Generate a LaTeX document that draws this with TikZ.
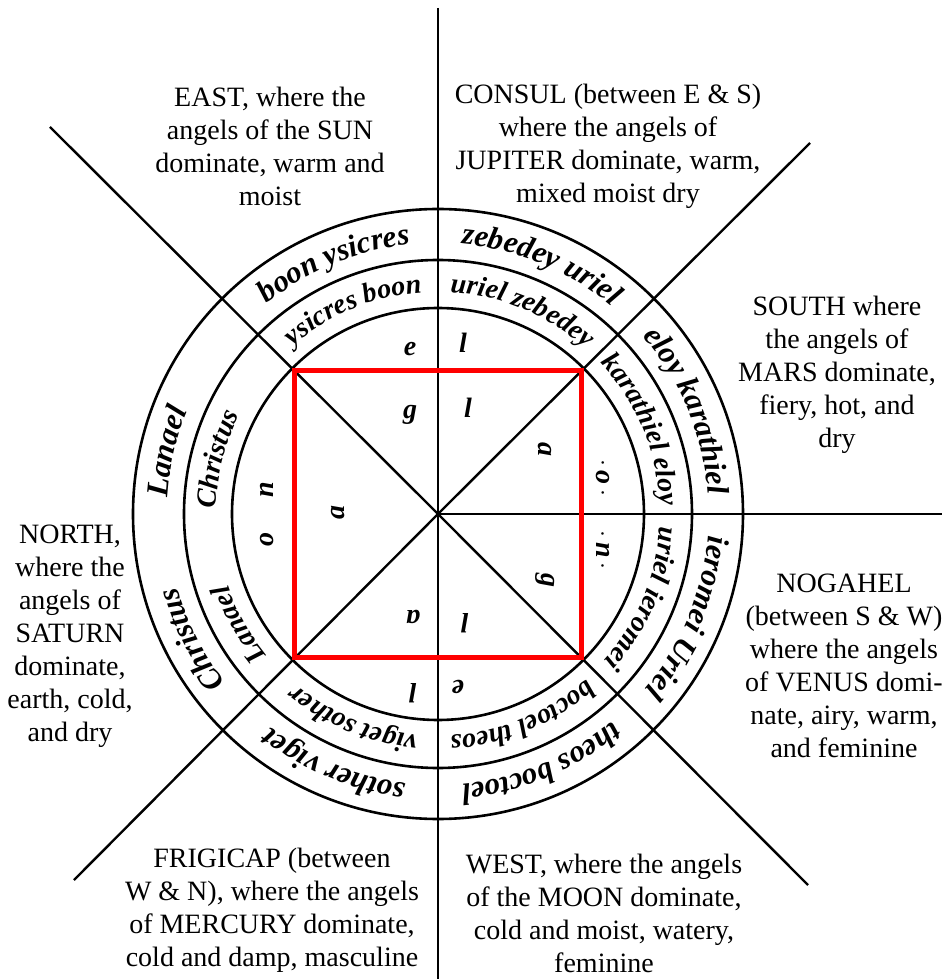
\documentclass[tikz,border=0pt]{standalone}
\usepackage{fontspec}
\setmainfont{Liberation Serif}
\usepackage{tikz}
\usetikzlibrary{decorations.text}

\newcommand\outerfont{\bfseries\itshape\fontsize{31}{31}\selectfont}
\newcommand\middlefont{\bfseries\itshape\fontsize{28}{28}\selectfont}

\begin{document}
\begin{tikzpicture}[
  x=1pt, y=1pt,
  rim/.style={draw, line width=2.6pt},
  spoke/.style={draw, line width=2.4pt},
  notes/.style={align=center, inner sep=0pt, font=\fontsize{28}{33}\selectfont},
  glyph/.style={inner sep=0pt, font=\middlefont},
  outertext/.style={decorate, decoration={text along path, text align=center, text={|\outerfont|#1}}},
  middletext/.style={decorate, decoration={text along path, text align=center, text={|\middlefont|#1}}},
]

  \useasboundingbox (-438,-465) rectangle (504,514);

  % spokes
  \coordinate (c) at (0,0);
  \coordinate (top) at (0,506);
  \coordinate (bottom) at (0,-465);
  \coordinate (right) at (504,0);
  \coordinate (nw) at (-388,387);
  \coordinate (ne) at (372,371);
  \coordinate (sw) at (-364,-366);
  \coordinate (se) at (370,-371);

  \draw[spoke] (top) -- (bottom);
  \draw[spoke] (c) -- (right);
  \draw[spoke] (c) -- (nw);
  \draw[spoke] (c) -- (ne);
  \draw[spoke] (c) -- (sw);
  \draw[spoke] (c) -- (se);

  % rings
  \draw[rim] (c) circle[radius=206];
  \draw[rim] (c) circle[radius=254];
  \draw[rim] (c) circle[radius=305];

  \draw[red, line width=5pt] (-143,-143) rectangle (143,143);

  % outer ring
  \path[outertext={boon ysicres}] (135:271) arc[start angle=135, end angle=90, radius=271];
  \path[outertext={zebedey uriel}] (90:271) arc[start angle=90, end angle=45, radius=271];
  \path[outertext={eloy karathiel}] (45:271) arc[start angle=45, end angle=0, radius=271];
  \path[outertext={ieromei Uriel}] (0:271) arc[start angle=0, end angle=-45, radius=271];
  \path[outertext={theos boctoel}] (-45:271) arc[start angle=-45, end angle=-90, radius=271];
  \path[outertext={sother viget}] (-90:271) arc[start angle=-90, end angle=-135, radius=271];
  \path[outertext={Christus}] (232:271) arc[start angle=232, end angle=182, radius=271];
  \path[outertext={Lanael}] (192:271) arc[start angle=192, end angle=142, radius=271];

  % middle ring
  \path[middletext={ysicres boon}] (137:222) arc[start angle=137, end angle=88, radius=222];
  \path[middletext={uriel zebedey}] (92:222) arc[start angle=92, end angle=43, radius=222];
  \path[middletext={karathiel eloy}] (47:222) arc[start angle=47, end angle=-2, radius=222];
  \path[middletext={uriel ieromei}] (2:222) arc[start angle=2, end angle=-47, radius=222];
  \path[middletext={boctoel theos}] (-43:222) arc[start angle=-43, end angle=-92, radius=222];
  \path[middletext={viget sother}] (-88:222) arc[start angle=-88, end angle=-137, radius=222];
  \path[middletext={Christus}] (191:222) arc[start angle=191, end angle=141, radius=222];
  \path[middletext={Lanael}] (234:222) arc[start angle=234, end angle=184, radius=222];

  % letters between square and inner ring
  \node[glyph] (ine) at (-28,165) {e};
  \node[glyph] (inl) at (25,171) {l};
  \node[glyph, rotate=-90] (ino) at (165,36) {$\cdot$\,o\,$\cdot$};
  \node[glyph, rotate=-90] (inn) at (165,-36) {$\cdot$\,n\,$\cdot$};
  \node[glyph, rotate=180] (outl) at (-25,-179) {l};
  \node[glyph, rotate=180] (oute) at (20,-173) {e};
  \node[glyph, rotate=90] (wn) at (-171,24) {n};
  \node[glyph, rotate=90] (wo) at (-171,-26) {o};

  % letters inside the square
  \node[glyph] (sqg) at (-28,99) {g};
  \node[glyph] (sql) at (30,106) {l};
  \node[glyph, rotate=-90] (sqa) at (107,64) {a};
  \node[glyph, rotate=-90] (sqg2) at (107,-66) {g};
  \node[glyph, rotate=180] (sql2) at (27,-109) {l};
  \node[glyph, rotate=180] (sqa2) at (-25,-103) {a};
  \node[glyph, rotate=90] (sqa3) at (-100,1) {a};

  % quarters
  \node[notes] (east) at (-168,368) {EAST, where the\\angels of the SUN\\dominate, warm and\\moist};
  \node[notes] (consul) at (170,368) {CONSUL (between E \& S)\\where the angels of\\JUPITER dominate, warm,\\mixed moist dry};
  \node[notes] (south) at (399,139) {SOUTH where\\the angels of\\MARS dominate,\\fiery, hot, and\\dry};
  \node[notes] (nogahel) at (406,-152) {NOGAHEL\\(between S \& W)\\where the angels\\of VENUS domi-\\nate, airy, warm,\\and feminine};
  \node[notes] (north) at (-368,-122) {NORTH,\\where the\\angels of\\SATURN\\dominate,\\earth, cold,\\and dry};
  \node[notes] (frigicap) at (-166,-396) {FRIGICAP (between\\W \& N), where the angels\\of MERCURY dominate,\\cold and damp, masculine};
  \node[notes] (west) at (166,-399) {WEST, where the angels\\of the MOON dominate,\\cold and moist, watery,\\feminine};

\end{tikzpicture}
\end{document}
